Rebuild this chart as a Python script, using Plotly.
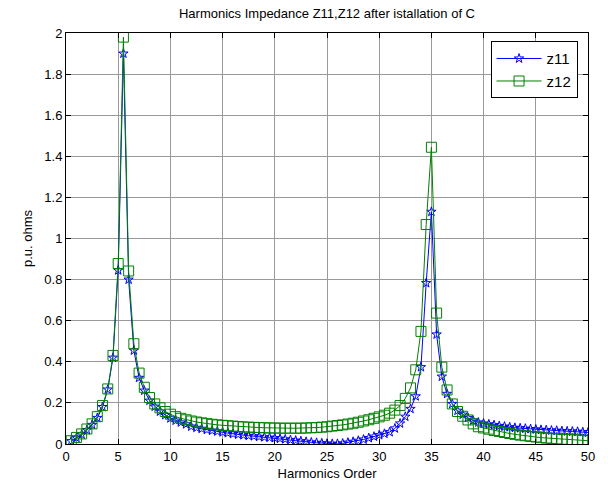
import plotly.graph_objects as go

harmonics = [0.5, 1.0, 1.5, 2.0, 2.5, 3.0, 3.5, 4.0, 4.5, 5.0,
             5.5, 6.0, 6.5, 7.0, 7.5, 8.0, 8.5, 9.0, 9.5, 10.0,
             10.5, 11.0, 11.5, 12.0, 12.5, 13.0, 13.5, 14.0, 14.5, 15.0,
             15.5, 16.0, 16.5, 17.0, 17.5, 18.0, 18.5, 19.0, 19.5, 20.0,
             20.5, 21.0, 21.5, 22.0, 22.5, 23.0, 23.5, 24.0, 24.5, 25.0,
             25.5, 26.0, 26.5, 27.0, 27.5, 28.0, 28.5, 29.0, 29.5, 30.0,
             30.5, 31.0, 31.5, 32.0, 32.5, 33.0, 33.5, 34.0, 34.5, 35.0,
             35.5, 36.0, 36.5, 37.0, 37.5, 38.0, 38.5, 39.0, 39.5, 40.0,
             40.5, 41.0, 41.5, 42.0, 42.5, 43.0, 43.5, 44.0, 44.5, 45.0,
             45.5, 46.0, 46.5, 47.0, 47.5, 48.0, 48.5, 49.0, 49.5, 50.0]

z11 = [0.014, 0.030, 0.046, 0.068, 0.093, 0.127, 0.180, 0.265, 0.420, 0.845,
       1.900, 0.800, 0.455, 0.322, 0.260, 0.211, 0.182, 0.158, 0.141, 0.125,
       0.114, 0.105, 0.096, 0.085, 0.079, 0.074, 0.069, 0.065, 0.061, 0.057,
       0.053, 0.049, 0.046, 0.043, 0.040, 0.038, 0.035, 0.033, 0.031, 0.029,
       0.026, 0.023, 0.020, 0.017, 0.014, 0.011, 0.008, 0.006, 0.004, 0.002,
       0.001, 0.001, 0.003, 0.007, 0.011, 0.016, 0.022, 0.029, 0.036, 0.043,
       0.050, 0.058, 0.076, 0.100, 0.133, 0.171, 0.232, 0.374, 0.783, 1.130,
       0.533, 0.328, 0.244, 0.195, 0.162, 0.143, 0.127, 0.114, 0.105, 0.100,
       0.096, 0.092, 0.088, 0.085, 0.082, 0.079, 0.077, 0.075, 0.073, 0.071,
       0.069, 0.068, 0.066, 0.065, 0.063, 0.062, 0.061, 0.060, 0.058, 0.056]

z12 = [0.016, 0.032, 0.049, 0.073, 0.098, 0.133, 0.187, 0.268, 0.431, 0.878,
       1.980, 0.842, 0.488, 0.345, 0.276, 0.226, 0.195, 0.176, 0.158, 0.145,
       0.133, 0.125, 0.118, 0.112, 0.107, 0.103, 0.099, 0.096, 0.093, 0.091,
       0.089, 0.087, 0.085, 0.083, 0.082, 0.081, 0.080, 0.079, 0.078, 0.078,
       0.077, 0.077, 0.077, 0.077, 0.077, 0.078, 0.079, 0.080, 0.082, 0.084,
       0.087, 0.090, 0.093, 0.097, 0.101, 0.106, 0.112, 0.118, 0.125, 0.132,
       0.140, 0.150, 0.165, 0.187, 0.222, 0.273, 0.361, 0.548, 1.068, 1.444,
       0.637, 0.374, 0.263, 0.195, 0.158, 0.135, 0.117, 0.098, 0.084, 0.078,
       0.072, 0.066, 0.061, 0.056, 0.051, 0.047, 0.043, 0.040, 0.037, 0.034,
       0.031, 0.029, 0.027, 0.025, 0.023, 0.022, 0.021, 0.020, 0.018, 0.016]

x_ticks = [0, 5, 10, 15, 20, 25, 30, 35, 40, 45, 50]
y_ticks = [0, 0.2, 0.4, 0.6, 0.8, 1.0, 1.2, 1.4, 1.6, 1.8, 2.0]
y_tick_labels = ["0", "0.2", "0.4", "0.6", "0.8", "1", "1.2", "1.4", "1.6", "1.8", "2"]

FONT = "Liberation Sans, Arial, sans-serif"

fig = go.Figure()
fig.add_trace(go.Scatter(
    x=harmonics, y=z11, name="z11", mode="lines+markers",
    line=dict(color="#0000ff", width=1),
    marker=dict(symbol="star-open", size=7, color="#0000ff", line=dict(width=1, color="#0000ff")),
))
fig.add_trace(go.Scatter(
    x=harmonics, y=z12, name="z12", mode="lines+markers",
    line=dict(color="#008000", width=1),
    marker=dict(symbol="square-open", size=10, color="#008000", line=dict(width=1, color="#008000")),
))

axis_common = dict(
    showline=True, linecolor="black", linewidth=1, mirror="ticks",
    ticks="inside", ticklen=5, tickcolor="black",
    showgrid=True, gridcolor="#999999", gridwidth=1,
    zeroline=False,
    tickfont=dict(family=FONT, size=13, color="black"),
)

fig.update_layout(
    width=608, height=490,
    margin=dict(l=66, r=20, t=33, b=46),
    paper_bgcolor="white", plot_bgcolor="white",
    font=dict(family=FONT, size=13, color="black"),
    title=dict(text="Harmonics Impedance Z11,Z12 after istallation of C",
               x=(66 + 588) / 2 / 608, xanchor="center", y=1 - 13 / 490, yanchor="middle",
               font=dict(size=13, color="black")),
    xaxis=dict(range=[0, 50], tickvals=x_ticks,
               title=dict(text="Harmonics Order", standoff=6, font=dict(size=13)),
               **axis_common),
    yaxis=dict(range=[0, 2], tickvals=y_ticks, ticktext=y_tick_labels,
               title=dict(text="p.u. ohms", standoff=8, font=dict(size=13)),
               **axis_common),
    legend=dict(x=0.98, y=0.98, xanchor="right", yanchor="top",
                bgcolor="white", bordercolor="black", borderwidth=1,
                itemwidth=45,
                font=dict(size=15, color="black"), tracegroupgap=2),
    showlegend=True,
)

fig.write_html("out.html")
